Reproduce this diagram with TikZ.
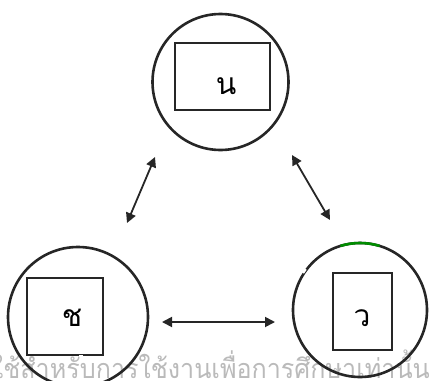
\documentclass[tikz,border=0pt]{standalone}
\usepackage{fontspec}
\newfontfamily\thaifont[Script=Thai]{Loma}
\usetikzlibrary{arrows.meta}
\begin{document}
\begin{tikzpicture}[x=1pt,y=-1pt,
  ring/.style={circle, draw=black!85, line width=2.6pt, minimum size=136pt, inner sep=0pt},
  box/.style={draw=black!85, line width=1.4pt, inner sep=0pt},
  lbl/.style={font=\thaifont\fontsize{30}{30}\selectfont, inner sep=0pt},
  link/.style={draw=black!85, line width=1.8pt,
    {Triangle[length=10pt,width=10pt]}-{Triangle[length=10pt,width=10pt]}}]
\useasboundingbox (0,0) rectangle (433,380);
\clip (0,0) rectangle (433,380);
% watermark
\node[text=black!27, anchor=base east, inner sep=0pt, xscale=0.93,
  font=\thaifont\fontsize{27}{27}\selectfont] (wm) at (430,378)
  {ใช้สำหรับการใช้งานเพื่อการศึกษาเท่านั้น};
% circles
\node[ring] (top) at (220.5,82) {};
\node[ring, minimum size=140pt] (bl) at (78,317) {};
\node[ring, minimum size=134pt] (br) at (360,310) {};
% boxes
\node[box, minimum width=95pt, minimum height=67pt] (tbox) at (222.5,76.5) {};
\node[box, minimum width=76pt, minimum height=77pt] (lbox) at (65,316.5) {};
\node[box, minimum width=59pt, minimum height=77pt] (rbox) at (362.5,311.5) {};
% labels
\node[lbl] (tl) at (226,86) {น};
\node[lbl] (ll) at (72,318) {ช};
\node[lbl] (rl) at (362,318) {ว};
% scan artefacts
\draw[green!55!black, line width=2.6pt] (br.center) ++(-107:67) arc[start angle=-107, end angle=-73, radius=67];
\draw[white, line width=3pt] (br.143) -- (br.147);
\draw[white, line width=2pt] ([xshift=14pt]lbox.south) -- ([xshift=18pt]lbox.south);
% arrows
\coordinate (a1) at (155,157);
\coordinate (a2) at (127,223);
\coordinate (b1) at (292,155);
\coordinate (b2) at (330,220);
\coordinate (c1) at (162,322);
\coordinate (c2) at (275,322);
\draw[link] (a1) -- (a2);
\draw[link] (b1) -- (b2);
\draw[link] (c1) -- (c2);
\end{tikzpicture}
\end{document}
